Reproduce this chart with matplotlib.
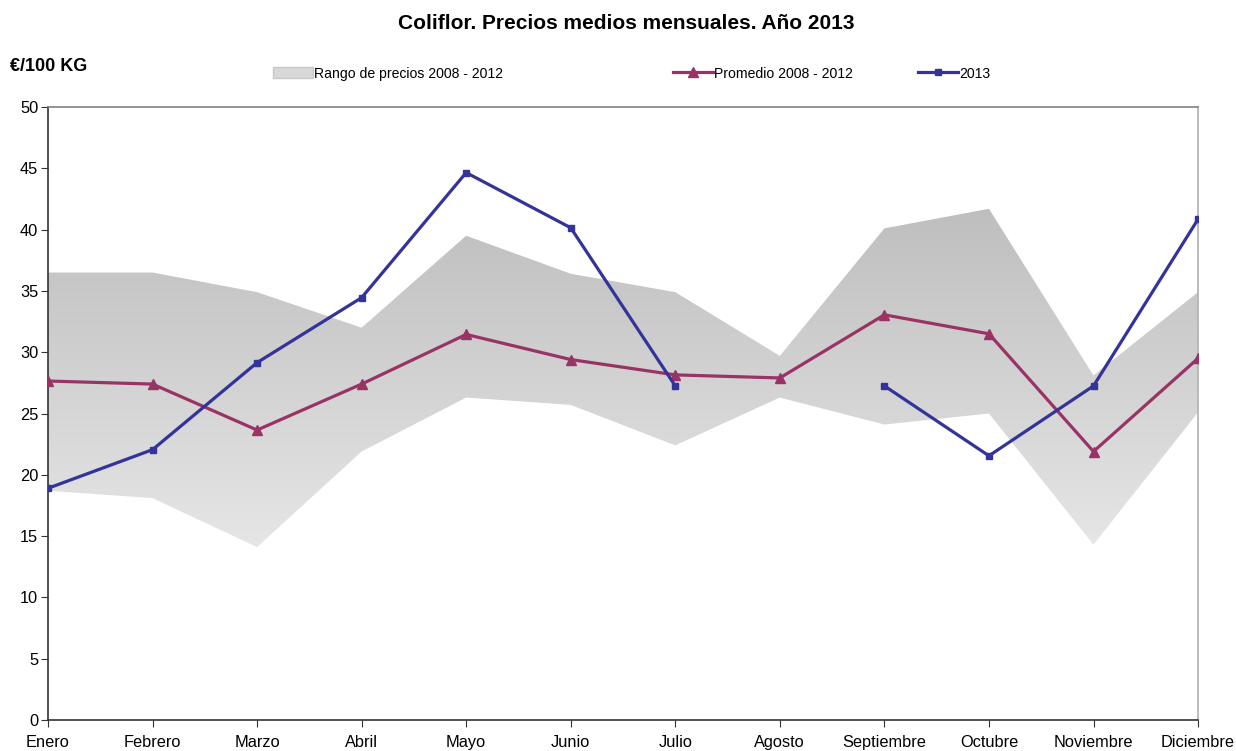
import numpy as np
import matplotlib.pyplot as plt
from matplotlib.lines import Line2D
from matplotlib.patches import Patch

plt.rcParams['font.family'] = ['Liberation Sans', 'DejaVu Sans']

meses = ['Enero', 'Febrero', 'Marzo', 'Abril', 'Mayo', 'Junio', 'Julio',
         'Agosto', 'Septiembre', 'Octubre', 'Noviembre', 'Diciembre']
rango_min = [18.7, 18.1, 14.1, 21.9, 26.3, 25.7, 22.4, 26.3, 24.1, 25.0, 14.3, 25.1]
rango_max = [36.5, 36.5, 34.9, 32.0, 39.5, 36.4, 34.9, 29.7, 40.1, 41.7, 28.1, 34.9]
promedio = [27.65, 27.4, 23.65, 27.4, 31.45, 29.4, 28.15, 27.9, 33.05, 31.5, 21.9, 29.5]
precios_2013 = [18.9, 22.05, 29.15, 34.45, 44.65, 40.15, 27.25, np.nan, 27.25, 21.55, 27.25, 40.85]

x = np.arange(len(meses))

fig = plt.figure(figsize=(12.36, 7.51), dpi=100)
ax = fig.add_axes([0.0388, 0.0413, 0.9305, 0.8162])

# banda de precios con degradado gris
banda = ax.fill_between(x, rango_min, rango_max, facecolor='none', edgecolor='none')
yy = np.linspace(50, 0, 500)
gris = np.clip(190 + (42 - yy) / 28 * 40, 190, 232) / 255.0
grad = np.repeat(gris[:, None], 2, axis=1)
img = np.dstack([grad, grad, grad])
im = ax.imshow(img, extent=[0, 11, 0, 50], aspect='auto', zorder=1, interpolation='bilinear')
im.set_clip_path(banda.get_paths()[0], transform=ax.transData)

ax.plot(x, promedio, color='#993366', lw=2.3, marker='^', ms=7, zorder=3)
ax.plot(x, precios_2013, color='#333399', lw=2.3, marker='s', ms=5, zorder=4)

ax.set_xlim(0, 11)
ax.set_ylim(0, 50)
ax.set_yticks(np.arange(0, 51, 5))
ax.set_xticks(x)
ax.set_xticklabels(meses)
ax.tick_params(axis='both', direction='out', length=5, labelsize=11.8, color='#333333')
ax.tick_params(axis='x', pad=6)
ax.tick_params(axis='y', pad=2)

for s in ['left', 'bottom']:
    ax.spines[s].set_color('#333333')
    ax.spines[s].set_linewidth(1.2)
ax.spines['top'].set_color('#808080')
ax.spines['top'].set_linewidth(1.2)
ax.spines['right'].set_color('#b0b0b0')
ax.spines['right'].set_linewidth(1.2)

fig.text(0.5065, 0.969, 'Coliflor. Precios medios mensuales. Año 2013',
         ha='center', va='center', fontsize=15, fontweight='bold')
fig.text(0.008, 0.912, '€/100 KG', ha='left', va='center', fontsize=13, fontweight='bold')

h1 = Patch(facecolor='#d8d8d8', edgecolor='#c8c8c8')
h2 = Line2D([], [], color='#993366', lw=2.3, marker='^', ms=7)
h3 = Line2D([], [], color='#333399', lw=2.3, marker='s', ms=5)
for h, lab, xpos in [(h1, 'Rango de precios 2008 - 2012', 0.2205),
                     (h2, 'Promedio 2008 - 2012', 0.5445),
                     (h3, '2013', 0.7425)]:
    fig.legend(handles=[h], labels=[lab], loc='center left', bbox_to_anchor=(xpos, 0.902),
               frameon=False, fontsize=10.1, handlelength=2.85, handleheight=0.8,
               handletextpad=0.1, borderpad=0, borderaxespad=0)

fig.savefig('out.png', dpi=100)
